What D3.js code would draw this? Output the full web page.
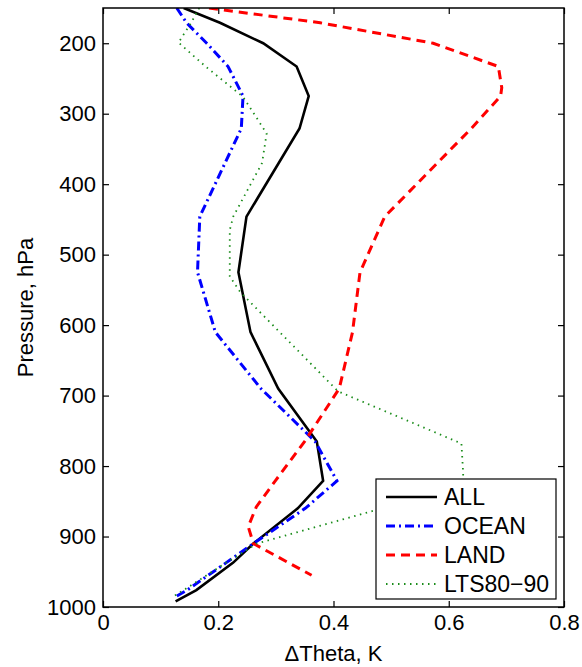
<!DOCTYPE html>
<html>
<head>
<meta charset="utf-8">
<script src="https://cdn.jsdelivr.net/npm/d3@7"></script>
<style>
  html, body { margin: 0; padding: 0; background: #fff; }
  svg { display: block; font-family: "Liberation Sans", Arial, Helvetica, sans-serif; }
</style>
</head>
<body>
<div id="chart"></div>
<script>
// ---- Data ----
const allP   = [150, 171, 200, 233, 275, 321, 446, 525, 610, 690, 765, 821, 860, 910, 937, 976, 992];
const allV   = [0.140, 0.203, 0.278, 0.336, 0.357, 0.341, 0.249, 0.235, 0.256, 0.304, 0.371, 0.382, 0.338, 0.261, 0.226, 0.162, 0.126];

const oceanP = [150, 171, 200, 233, 275, 321, 446, 525, 610, 690, 765, 821, 860, 910, 937, 976, 986];
const oceanV = [0.128, 0.145, 0.180, 0.217, 0.243, 0.240, 0.168, 0.164, 0.195, 0.274, 0.368, 0.406, 0.351, 0.261, 0.214, 0.146, 0.125];

const landP  = [150, 171, 200, 233, 263, 275, 321, 446, 525, 610, 690, 765, 821, 858, 886, 910, 955];
const landV  = [0.184, 0.377, 0.573, 0.686, 0.692, 0.690, 0.639, 0.489, 0.446, 0.433, 0.410, 0.350, 0.299, 0.266, 0.252, 0.261, 0.362];

const ltsP   = [150, 171, 199, 233, 276, 328, 370, 446, 465, 531, 553, 694, 768, 810, 821, 860, 910, 937, 976, 985];
const ltsV   = [0.167, 0.153, 0.131, 0.178, 0.243, 0.284, 0.276, 0.226, 0.220, 0.220, 0.238, 0.408, 0.622, 0.625, 0.625, 0.484, 0.267, 0.214, 0.140, 0.122];

const seriesNames = ["ALL", "OCEAN", "LAND", "LTS80\u221290"];
const xTicks = [0, 0.2, 0.4, 0.6, 0.8];
const yTicks = [200, 300, 400, 500, 600, 700, 800, 900, 1000];

// ---- Layout ----
const W = 582, H = 667;
const pLeft = 103, pRight = 564, pTop = 8, pBottom = 607;

const x = d3.scaleLinear().domain([0, 0.8]).range([pLeft, pRight]);
const y = d3.scaleLinear().domain([150, 1000]).range([pTop, pBottom]);

const svg = d3.select("#chart").append("svg").attr("width", W).attr("height", H);

svg.append("defs").append("clipPath").attr("id", "plotclip")
  .append("rect").attr("x", pLeft).attr("y", pTop).attr("width", pRight - pLeft).attr("height", pBottom - pTop);

const styles = [
  { color: "#000000", width: 2.6, dash: null },
  { color: "#0000ff", width: 3, dash: "9,4,2,4" },
  { color: "#ff0000", width: 3, dash: "9,6" },
  { color: "#1a8c1a", width: 1.8, dash: "1.5,4.5" }
];

const series = [
  allP.map((p, i) => ({ p, v: allV[i] })),
  oceanP.map((p, i) => ({ p, v: oceanV[i] })),
  landP.map((p, i) => ({ p, v: landV[i] })),
  ltsP.map((p, i) => ({ p, v: ltsV[i] }))
];

const line = d3.line().x(d => x(d.v)).y(d => y(d.p));

const gLines = svg.append("g").attr("clip-path", "url(#plotclip)");
series.forEach((s, i) => {
  const st = styles[i];
  gLines.append("path")
    .datum(s)
    .attr("d", line)
    .attr("fill", "none")
    .attr("stroke", st.color)
    .attr("stroke-width", st.width)
    .attr("stroke-linejoin", "miter")
    .attr("stroke-dasharray", st.dash);
});

// ---- Axes ----
const fs = 22;
const gx = svg.append("g").attr("transform", `translate(0,${pBottom})`)
  .call(d3.axisBottom(x).tickValues(xTicks).tickSizeInner(-6).tickSizeOuter(0).tickPadding(7)
    .tickFormat(d => d === 0 ? "0" : d3.format(".1f")(d)));
const gxt = svg.append("g").attr("transform", `translate(0,${pTop})`)
  .call(d3.axisTop(x).tickValues(xTicks).tickSizeInner(-6).tickSizeOuter(0).tickFormat(""));
const gy = svg.append("g").attr("transform", `translate(${pLeft},0)`)
  .call(d3.axisLeft(y).tickValues(yTicks).tickSizeInner(-6).tickSizeOuter(0).tickPadding(7)
    .tickFormat(d3.format("d")));
const gyr = svg.append("g").attr("transform", `translate(${pRight},0)`)
  .call(d3.axisRight(y).tickValues(yTicks).tickSizeInner(-6).tickSizeOuter(0).tickFormat(""));

[gx, gxt, gy, gyr].forEach(g => {
  g.selectAll(".domain").remove();
  g.selectAll(".tick line").attr("stroke", "#000").attr("stroke-width", 1.2);
  g.selectAll("text").attr("font-size", fs).attr("fill", "#000")
    .attr("font-family", "'Liberation Sans', Arial, sans-serif");
});

// box
svg.append("rect").attr("x", pLeft).attr("y", pTop).attr("width", pRight - pLeft).attr("height", pBottom - pTop)
  .attr("fill", "none").attr("stroke", "#000").attr("stroke-width", 1.5);

// axis labels
svg.append("text").attr("x", (pLeft + pRight) / 2).attr("y", 661)
  .attr("text-anchor", "middle").attr("font-size", 22).attr("fill", "#000")
  .text("\u0394Theta, K");
svg.append("text").attr("transform", `translate(33,${(pTop + pBottom) / 2}) rotate(-90)`)
  .attr("text-anchor", "middle").attr("font-size", 22).attr("fill", "#000")
  .text("Pressure, hPa");

// ---- Legend ----
const lg = svg.append("g");
lg.append("rect").attr("x", 376).attr("y", 479).attr("width", 180).attr("height", 120)
  .attr("fill", "#fff").attr("stroke", "#000").attr("stroke-width", 1.2);
seriesNames.forEach((name, i) => {
  const yy = 497 + i * 29;
  const st = styles[i];
  lg.append("line").attr("x1", 386).attr("x2", 437).attr("y1", yy).attr("y2", yy)
    .attr("stroke", st.color).attr("stroke-width", st.width).attr("stroke-dasharray", st.dash);
  lg.append("text").attr("x", 444).attr("y", yy).attr("dy", "0.36em")
    .attr("font-size", 23).attr("fill", "#000").text(name);
});
</script>
</body>
</html>
